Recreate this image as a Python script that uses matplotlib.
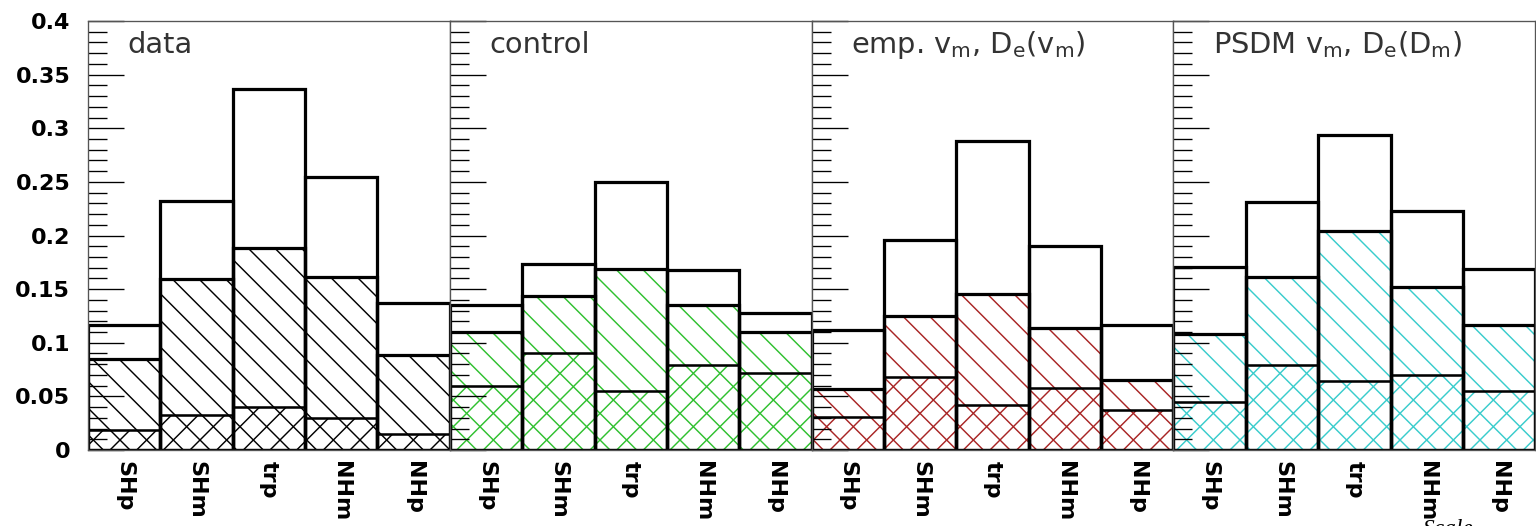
import numpy as np
import matplotlib
matplotlib.use('Agg')
from matplotlib import pyplot as plt
from matplotlib.ticker import MultipleLocator

plt.rcParams['font.family'] = 'DejaVu Sans'
plt.rcParams['mathtext.fontset'] = 'dejavusans'
plt.rcParams['hatch.linewidth'] = 1.3

# bin labels and panel names
cats = ['SHp', 'SHm', 'trp', 'NHm', 'NHp']
titles = ['data', 'control',
          r'emp. v$_\mathrm{m}$, D$_\mathrm{e}$(v$_\mathrm{m}$)',
          r'PSDM v$_\mathrm{m}$, D$_\mathrm{e}$(D$_\mathrm{m}$)']
colors = ['black', '#2fc02f', '#a82424', '#38cccc']

# outer histogram (open)
total = [[0.117, 0.232, 0.337, 0.255, 0.137],
         [0.135, 0.173, 0.250, 0.168, 0.128],
         [0.112, 0.196, 0.288, 0.190, 0.117],
         [0.171, 0.231, 0.294, 0.223, 0.169]]
# single hatched part
mid = [[0.085, 0.159, 0.188, 0.161, 0.089],
       [0.110, 0.144, 0.169, 0.135, 0.110],
       [0.057, 0.125, 0.145, 0.114, 0.065],
       [0.108, 0.161, 0.204, 0.152, 0.117]]
# cross hatched part
low = [[0.019, 0.033, 0.040, 0.030, 0.015],
       [0.060, 0.090, 0.055, 0.079, 0.072],
       [0.031, 0.068, 0.042, 0.058, 0.037],
       [0.045, 0.079, 0.064, 0.070, 0.055]]

# dpi 80 so the hatch spacing comes out like the original
fig, axes = plt.subplots(1, 4, sharey=True, figsize=(19.2, 6.575), dpi=80)
plt.subplots_adjust(left=0.0573, right=0.9995, top=0.960, bottom=0.1445, wspace=0)

x = np.arange(len(cats)) + 0.5
for i, ax in enumerate(axes):
    c = colors[i]
    # hatches (drawn with edgecolor, no outline)
    ax.bar(x, mid[i], width=1, fill=False, hatch='\\', edgecolor=c, linewidth=0)
    ax.bar(x, low[i], width=1, fill=False, hatch='/', edgecolor=c, linewidth=0)
    # black step outlines
    ax.bar(x, total[i], width=1, fill=False, edgecolor='black', linewidth=2.9)
    ax.bar(x, mid[i], width=1, fill=False, edgecolor='black', linewidth=2.9)
    ax.bar(x, low[i], width=1, fill=False, edgecolor='black', linewidth=2.3)

    ax.set_xlim(0, 5)
    ax.set_ylim(0, 0.4)
    ax.set_xticks(x)
    ax.set_xticklabels(cats, rotation=-90, fontweight='bold', fontsize=20,
                       va='top', ha='center')
    ax.tick_params(axis='x', length=0, pad=10)
    ax.yaxis.set_major_locator(MultipleLocator(0.05))
    ax.yaxis.set_minor_locator(MultipleLocator(0.01))
    ax.tick_params(axis='y', which='major', direction='in', length=32, width=1.2, pad=16)
    ax.tick_params(axis='y', which='minor', direction='in', length=17, width=1.2)
    for s in ax.spines.values():
        s.set_color('#555555')
        s.set_linewidth(1.2)
    ax.text(0.11, 0.925, titles[i], transform=ax.transAxes, ha='left', va='baseline',
            fontsize=26, color='#333333')

axes[0].set_yticks([0, 0.05, 0.1, 0.15, 0.2, 0.25, 0.3, 0.35, 0.4])
axes[0].set_yticklabels(['0', '0.05', '0.1', '0.15', '0.2', '0.25', '0.3', '0.35', '0.4'],
                        fontweight='bold', fontsize=20)

fig.text(0.926, 0.014, 'Scale', ha='left', va='top', fontsize=21,
         family='Liberation Serif', style='italic')

fig.savefig('out.png', dpi=80)
